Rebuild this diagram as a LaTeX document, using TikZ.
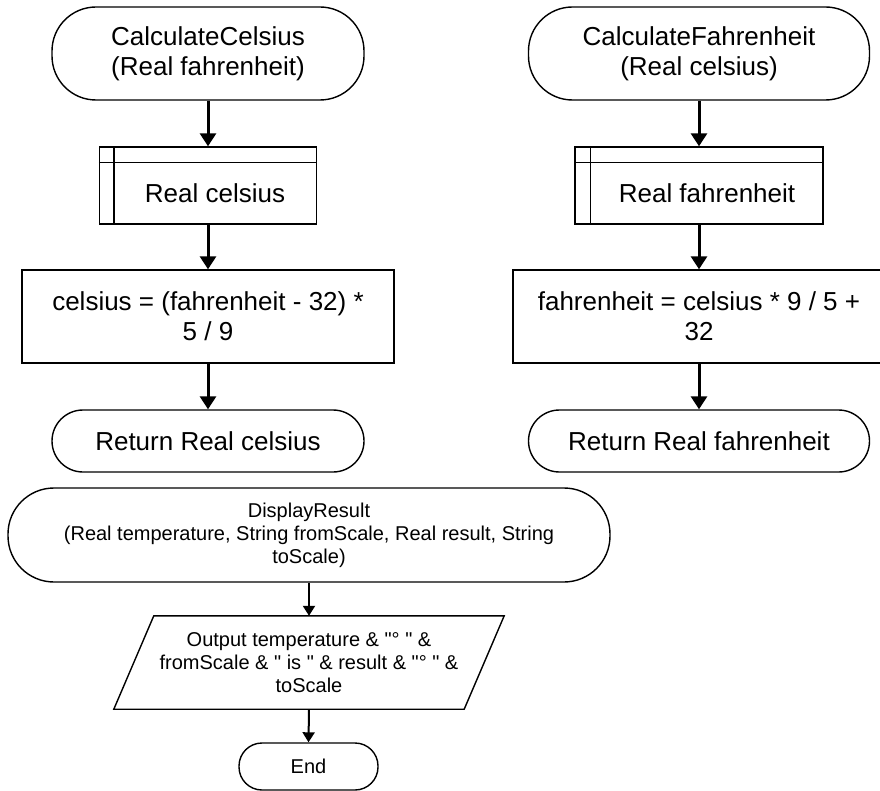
\documentclass[tikz,border=0pt]{standalone}
\usepackage{fontspec}
\setmainfont{Liberation Sans}
\usetikzlibrary{arrows.meta,calc}
\begin{document}
\begin{tikzpicture}[x=1pt,y=-1pt,
  big/.style={font=\fontsize{26}{30}\selectfont, align=center},
  small/.style={font=\fontsize{20}{23}\selectfont, align=center},
  term/.style={draw, line width=1.4pt, rounded corners=#1, inner sep=0pt, align=center},
  proc/.style={draw, line width=1.4pt, inner sep=0pt, align=center},
  ghost/.style={inner sep=0pt, align=center},
  arr/.style={line width=3pt, -{Triangle[width=16pt,length=13pt]}},
  arrs/.style={line width=2pt, -{Triangle[width=12pt,length=10pt]}}
]
\fill[white] (0,0) rectangle (880,791);
\useasboundingbox (0,0) rectangle (880,791);

% left column
\node[term=44, big, minimum width=312pt, minimum height=93pt] (t1) at (208,53.5) {CalculateCelsius\\(Real fahrenheit)};
\node[proc, minimum width=217pt, minimum height=77pt] (s1) at (208,185.5) {};
\draw[line width=1.4pt] ($(s1.north west)+(15,0)$) -- ($(s1.south west)+(15,0)$);
\draw[line width=1.4pt] ($(s1.north west)+(0,16)$) -- ($(s1.north east)+(0,16)$);
\node[ghost, big] (s1t) at (215,193.5) {Real celsius};
\node[proc, big, minimum width=372pt, minimum height=93pt] (p1) at (208,316.5) {celsius = (fahrenheit - 32) *\\5 / 9};
\node[term=31, big, minimum width=312pt, minimum height=62pt] (r1) at (208,441) {Return Real celsius};

% right column
\node[term=44, big, minimum width=341pt, minimum height=93pt] (t2) at (699,53.5) {CalculateFahrenheit\\(Real celsius)};
\node[proc, minimum width=248pt, minimum height=77pt] (s2) at (699,185.5) {};
\draw[line width=1.4pt] ($(s2.north west)+(16,0)$) -- ($(s2.south west)+(16,0)$);
\draw[line width=1.4pt] ($(s2.north west)+(0,16)$) -- ($(s2.north east)+(0,16)$);
\node[ghost, big] (s2t) at (707,193.5) {Real fahrenheit};
\node[proc, big, minimum width=372pt, minimum height=93pt] (p2) at (699,316.5) {fahrenheit = celsius * 9 / 5 +\\32};
\node[term=31, big, minimum width=341pt, minimum height=62pt] (r2) at (699,441) {Return Real fahrenheit};

% bottom
\node[term=46, small, minimum width=602pt, minimum height=94pt] (d) at (309,535) {DisplayResult\\(Real temperature, String fromScale, Real result, String\\toScale)};
\node[ghost, small, minimum width=350pt, minimum height=93pt] (par) at (309,662.5) {Output temperature \& \textquotedbl° \textquotedbl{} \&\\fromScale \& \textquotedbl{} is \textquotedbl{} \& result \& \textquotedbl° \textquotedbl{} \&\\toScale};
\draw[line width=1.4pt] ($(par.south west)+(-20,0)$) -- ($(par.north west)+(20,0)$) -- ($(par.north east)+(20,0)$) -- ($(par.south east)+(-20,0)$) -- cycle;
\node[term=23, small, minimum width=139pt, minimum height=47pt] (e) at (308.5,766.5) {End};

% arrows
\draw[arr] (t1.south) -- (s1.north);
\draw[arr] (s1.south) -- (p1.north);
\draw[arr] (p1.south) -- (r1.north);
\draw[arr] (t2.south) -- (s2.north);
\draw[arr] (s2.south) -- (p2.north);
\draw[arr] (p2.south) -- (r2.north);
\draw[arrs] (d.south) -- (par.north);
\draw[arrs] (par.south) -- (e.north);
\end{tikzpicture}
\end{document}
